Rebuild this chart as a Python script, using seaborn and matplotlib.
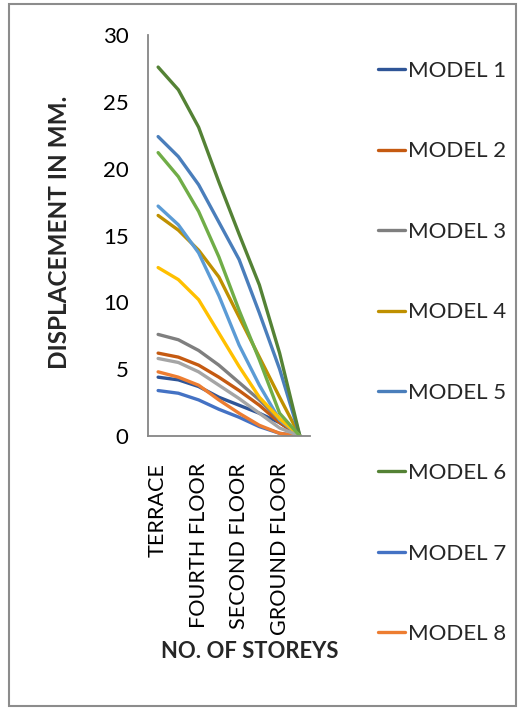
import matplotlib
matplotlib.use("Agg")
import matplotlib.pyplot as plt
from matplotlib.lines import Line2D
from matplotlib.patches import Rectangle
import seaborn as sns
import pandas as pd

storeys = ["TERRACE", "FIFTH FLOOR", "FOURTH FLOOR", "THIRD FLOOR",
           "SECOND FLOOR", "FIRST FLOOR", "GROUND FLOOR", "BASE"]

model_1 = [4.4, 4.2, 3.7, 2.9, 2.3, 1.7, 1.0, 0]
model_2 = [6.2, 5.9, 5.3, 4.4, 3.4, 2.3, 1.0, 0]
model_3 = [7.6, 7.2, 6.4, 5.3, 4.0, 2.7, 1.2, 0]
model_4 = [16.5, 15.4, 13.9, 11.9, 8.9, 5.9, 2.9, 0]
model_5 = [22.4, 20.9, 18.8, 16.0, 13.2, 9.2, 5.0, 0]
model_6 = [27.6, 25.9, 23.1, 19.0, 15.1, 11.3, 6.2, 0]
model_7 = [3.4, 3.2, 2.7, 2.0, 1.4, 0.7, 0.2, 0]
model_8 = [4.8, 4.4, 3.8, 2.7, 1.7, 0.8, 0.2, 0]
model_9 = [17.2, 15.8, 13.7, 10.5, 6.8, 3.8, 1.2, 0]
model_10 = [12.6, 11.7, 10.2, 7.7, 5.2, 2.9, 1.3, 0]
model_11 = [5.8, 5.5, 4.8, 3.8, 2.8, 1.7, 0.6, 0]
model_12 = [21.2, 19.4, 16.8, 13.4, 9.4, 5.7, 1.7, 0]

models = ["MODEL 1", "MODEL 2", "MODEL 3", "MODEL 4", "MODEL 5", "MODEL 6",
          "MODEL 7", "MODEL 8", "MODEL 9", "MODEL 10", "MODEL 11", "MODEL 12"]
series = [model_1, model_2, model_3, model_4, model_5, model_6,
          model_7, model_8, model_9, model_10, model_11, model_12]
colors = ["#2F5597", "#C55A11", "#7F7F7F", "#BF9000", "#4A7EBB", "#548235",
          "#4472C4", "#ED7D31", "#5B9BD5", "#FFC000", "#A5A5A5", "#70AD47"]
legend_models = models[:8]

rows = []
for m, vals in zip(models, series):
    for s, v in zip(storeys, vals):
        rows.append({"Storey": s, "Displacement": v, "Model": m})
df = pd.DataFrame(rows)

sns.set_style("white")
plt.rcParams["font.family"] = ["Lato", "DejaVu Sans"]

W, H = 526, 711
fig = plt.figure(figsize=(W / 100, H / 100), dpi=100)
ax = fig.add_axes([148 / W, 1 - 436 / H, 162 / W, 401 / H])

palette = dict(zip(models, colors))
sns.lineplot(data=df, x="Storey", y="Displacement", hue="Model",
             palette=palette, sort=False, linewidth=2.4, legend=False, ax=ax)

ax.set_xlim(-0.5, len(storeys) - 0.5)
ax.set_ylim(0, 30)
ax.set_yticks([0, 5, 10, 15, 20, 25, 30])
ax.set_yticklabels(["0", "5", "10", "15", "20", "25", "30"], fontsize=16)
ax.set_xticks(range(0, len(storeys), 2))
xlabels = ax.set_xticklabels(storeys[::2], rotation=90, fontsize=16, va="top")

for side in ["top", "right"]:
    ax.spines[side].set_visible(False)
for side in ["left", "bottom"]:
    ax.spines[side].set_color("#868686")
    ax.spines[side].set_linewidth(1.3)
ax.tick_params(axis="y", direction="out", length=6, width=1.2, color="#868686",
               pad=8, labelcolor="black")
ax.tick_params(axis="x", length=0, pad=14, labelcolor="black")

ax.set_xlabel("")
ax.set_ylabel("")
ylab = fig.text(60 / W, 1 - 232 / H, "DISPLACEMENT IN MM.", rotation=90,
                fontsize=17, fontweight="bold", ha="center", va="center")
xlab = fig.text(250 / W, 1 - 651 / H, "NO. OF STOREYS", fontsize=16,
                fontweight="bold", ha="center", va="center")

handles = [Line2D([0], [0], color=palette[m], linewidth=2.4) for m in legend_models]
fig.legend(handles, legend_models, loc="upper left",
           bbox_to_anchor=(378 / W, 1 - 61 / H), frameon=False,
           fontsize=16, handlelength=1.2, handletextpad=0.15,
           labelspacing=2.72, borderpad=0, borderaxespad=0)

fig.patches.append(Rectangle((9 / W, 5 / H), 507 / W, 702 / H,
                             transform=fig.transFigure, fill=False,
                             edgecolor="#8C8C8C", linewidth=1.5))

# fit tick label size: longest label ("GROUND FLOOR") ~172 px tall, top at y=463
fig.canvas.draw()
r = fig.canvas.get_renderer()
lengths = [t.get_window_extent(r).height for t in ax.get_xticklabels()]
target_len = 172.0
scale = target_len / max(lengths)
for t in ax.get_xticklabels():
    t.set_fontsize(16 * scale)
fig.canvas.draw()
top = max(t.get_window_extent(r).y1 for t in ax.get_xticklabels())
want_top = H - 463
pad_new = 14 + (top - want_top) * 72 / 100
ax.tick_params(axis="x", pad=pad_new)

# fit axis titles
fig.canvas.draw()
h = ylab.get_window_extent(r).height
ylab.set_fontsize(17 * 272 / h)
w = xlab.get_window_extent(r).width
xlab.set_fontsize(16 * 178 / w)

fig.savefig("out.png", dpi=100)
